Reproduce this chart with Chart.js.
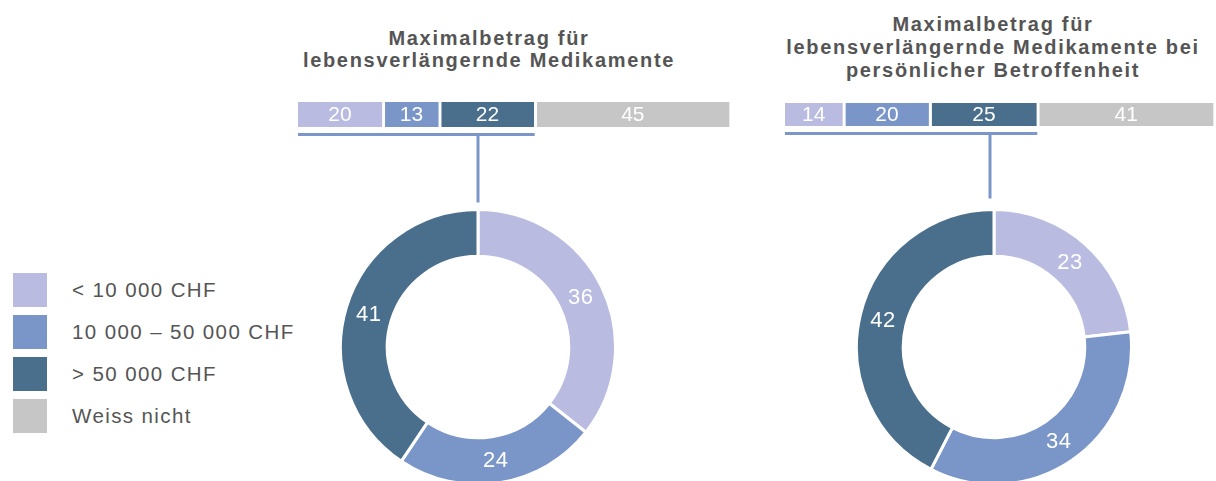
<!DOCTYPE html>
<html lang="de">
<head>
<meta charset="utf-8">
<title>Maximalbetrag für lebensverlängernde Medikamente</title>
<script src="https://cdn.jsdelivr.net/npm/chart.js@4/dist/chart.umd.min.js"></script>
<style>
  html, body { margin: 0; padding: 0; background: #fff; }
  body { width: 1216px; height: 481px; position: relative; overflow: hidden;
         font-family: "Liberation Sans", Arial, sans-serif; color: #555; }
  canvas { position: absolute; }
  .title { position: absolute; text-align: center; font-weight: bold; font-size: 20px;
           letter-spacing: 1.7px; color: #555; white-space: nowrap; }
  .legend { position: absolute; left: 13px; top: 273px; }
  .legend .row { display: flex; align-items: center; height: 34px; margin-bottom: 8px; }
  .legend .sw { width: 34px; height: 34px; margin-right: 25px; }
  .legend .tx { font-size: 20.5px; letter-spacing: 1.4px; color: #555; }
</style>
</head>
<body>
<div id="titleA" class="title"></div>
<div id="titleB" class="title"></div>
<div id="legend" class="legend"></div>

<canvas id="barA" width="460" height="140" style="left:290px;top:0px"></canvas>
<canvas id="barB" width="441" height="140" style="left:775px;top:0px"></canvas>
<canvas id="donutA" width="278" height="353" style="left:339px;top:133px"></canvas>
<canvas id="donutB" width="278" height="353" style="left:855px;top:133px"></canvas>

<script>
// Answer categories (shared by both questions)
const categories = ['< 10 000 CHF', '10 000 – 50 000 CHF', '> 50 000 CHF', 'Weiss nicht'];

// Share of all respondents, in percent
const barA = [20, 13, 22, 45];
const barB = [14, 20, 25, 41];

// Breakdown among those who named an amount, in percent
const donutA = [36, 24, 41];
const donutB = [23, 34, 42];

const titleA = ['Maximalbetrag für', 'lebensverlängernde Medikamente'];
const titleB = ['Maximalbetrag für', 'lebensverlängernde Medikamente bei', 'persönlicher Betroffenheit'];

const palette = ['#b9bbe1', '#7a96c8', '#4a6f8c', '#c6c6c6'];
const lineColor = '#7b96c8';

// Titles
function setTitle(id, lines, centerX, top, lineHeight) {
  const el = document.getElementById(id);
  el.style.top = top + 'px';
  el.style.lineHeight = lineHeight + 'px';
  el.style.width = '520px';
  el.style.left = (centerX - 260) + 'px';
  el.innerHTML = lines.map(l => l.replace(/&/g, '&amp;').replace(/</g, '&lt;')).join('<br>');
}
setTitle('titleA', titleA, 489, 27, 22);
setTitle('titleB', titleB, 993, 12.5, 23);

// Legend
const legendEl = document.getElementById('legend');
categories.forEach((c, i) => {
  const row = document.createElement('div');
  row.className = 'row';
  const sw = document.createElement('div');
  sw.className = 'sw';
  sw.style.background = palette[i];
  const tx = document.createElement('div');
  tx.className = 'tx';
  tx.textContent = c;
  row.appendChild(sw);
  row.appendChild(tx);
  legendEl.appendChild(row);
});

// Value labels inside each stacked bar segment
const barLabels = {
  id: 'barLabels',
  afterDatasetsDraw(chart) {
    const ctx = chart.ctx;
    ctx.save();
    ctx.font = '21px "Liberation Sans", Arial, sans-serif';
    ctx.fillStyle = '#fff';
    ctx.textAlign = 'center';
    ctx.textBaseline = 'middle';
    chart.data.datasets.forEach((ds, i) => {
      const el = chart.getDatasetMeta(i).data[0];
      const cx = (el.x + el.base) / 2 - 1.5;
      ctx.fillText(String(ds.data[0]), cx, el.y + 1);
    });
    ctx.restore();
  }
};

// Bracket under the segments that feed the doughnut
const bracket = {
  id: 'bracket',
  afterDraw(chart, args, opts) {
    const xs = chart.scales.x;
    const sum = chart.data.datasets.slice(0, opts.count).reduce((s, d) => s + d.data[0], 0);
    const el = chart.getDatasetMeta(0).data[0];
    const y = el.y + el.height / 2 + opts.gap;
    const ctx = chart.ctx;
    ctx.save();
    ctx.strokeStyle = lineColor;
    ctx.lineWidth = 3;
    ctx.beginPath();
    ctx.moveTo(xs.getPixelForValue(0), y);
    ctx.lineTo(xs.getPixelForValue(sum) - 2, y);
    ctx.stroke();
    ctx.restore();
  }
};

function makeBar(id, values, pad, thickness) {
  return new Chart(document.getElementById(id), {
    type: 'bar',
    data: {
      labels: [''],
      datasets: values.map((v, i) => ({
        label: categories[i],
        data: [v],
        backgroundColor: palette[i],
        borderColor: '#fff',
        borderWidth: { left: 0, top: 0, bottom: 0, right: 3 },
        borderSkipped: false,
        barThickness: thickness
      }))
    },
    options: {
      responsive: false,
      animation: false,
      events: [],
      indexAxis: 'y',
      layout: { padding: pad },
      scales: {
        x: { stacked: true, min: 0, max: 100, display: false },
        y: { stacked: true, display: false }
      },
      plugins: {
        legend: { display: false },
        tooltip: { enabled: false },
        bracket: { count: 3, gap: 7.5 }
      }
    },
    plugins: [barLabels, bracket]
  });
}

makeBar('barA', barA, { left: 8, right: 18, top: 100, bottom: 11 }, 25);
makeBar('barB', barB, { left: 10, right: 0, top: 100, bottom: 11 }, 23);

// Value labels on the rings
const ringLabels = {
  id: 'ringLabels',
  afterDatasetsDraw(chart) {
    const ctx = chart.ctx;
    const meta = chart.getDatasetMeta(0);
    ctx.save();
    ctx.font = '22px "Liberation Sans", Arial, sans-serif';
    ctx.letterSpacing = '0.5px';
    ctx.fillStyle = '#fff';
    ctx.textAlign = 'center';
    ctx.textBaseline = 'middle';
    meta.data.forEach((arc, i) => {
      const p = arc.getCenterPoint();
      ctx.fillText(String(chart.data.datasets[0].data[i]), p.x, p.y + 1);
    });
    ctx.restore();
  }
};

// Connector from the bracket down to the ring
const stem = {
  id: 'stem',
  afterDraw(chart, args, opts) {
    const arc = chart.getDatasetMeta(0).data[0];
    const ctx = chart.ctx;
    const x = arc.x + opts.dx;
    ctx.save();
    ctx.strokeStyle = lineColor;
    ctx.lineWidth = 3;
    ctx.beginPath();
    ctx.moveTo(x, 0);
    ctx.lineTo(x, arc.y - arc.outerRadius - opts.gap);
    ctx.stroke();
    ctx.restore();
  }
};

function makeRing(id, values, stemOpts) {
  return new Chart(document.getElementById(id), {
    type: 'doughnut',
    data: {
      labels: categories.slice(0, 3),
      datasets: [{
        data: values,
        backgroundColor: palette.slice(0, 3),
        borderColor: '#fff',
        borderWidth: 3,
        hoverOffset: 0
      }]
    },
    options: {
      responsive: false,
      animation: false,
      events: [],
      cutout: '66%',
      layout: { padding: { top: 75 } },
      plugins: {
        legend: { display: false },
        tooltip: { enabled: false },
        stem: stemOpts
      }
    },
    plugins: [ringLabels, stem]
  });
}

makeRing('donutA', donutA, { dx: 0, gap: 7 });
makeRing('donutB', donutB, { dx: -4, gap: 11 });
</script>
</body>
</html>
